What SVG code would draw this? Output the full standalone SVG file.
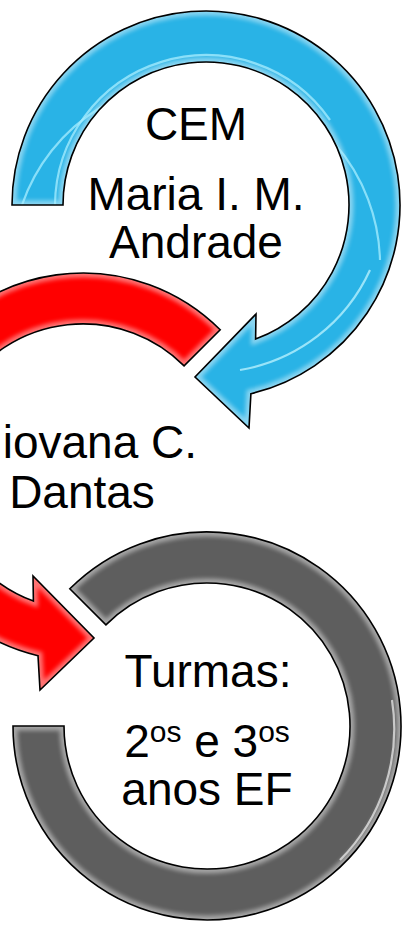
<svg xmlns="http://www.w3.org/2000/svg" xmlns:xlink="http://www.w3.org/1999/xlink" width="406" height="925" viewBox="0 0 406 925">
<style>
.lbl{font-family:"Liberation Sans",Arial,sans-serif;font-size:46px;fill:#000;text-anchor:middle}
.sup{font-size:30px}
.edge{fill:none;stroke:#000;stroke-width:1.6;stroke-linejoin:miter}
.glow{fill:none;stroke:#fff;stroke-width:9;opacity:0.45;filter:url(#blur)}
.hl{fill:none;stroke-width:2.2;opacity:0.75}
</style>
<defs>
<filter id="blur" x="-10%" y="-10%" width="120%" height="120%"><feGaussianBlur stdDeviation="2.2"/></filter>
<path id="pBlue" d="M 12 205 A 194 194 0 1 1 250.9 393.7 L 249 428 L 195 377 L 256 314 L 255.6 339.1 A 143 143 0 1 0 63 205 Z"/>
<path id="pRed" d="M 220.2 329.8 A 194 194 0 1 0 38 655.7 L 40 690 L 94 638 L 33 576 L 33.4 601.1 A 143 143 0 1 1 184.1 365.9 Z"/>
<path id="pGray" d="M 69.8 588.8 A 194 194 0 1 1 13 726 L 64 726 A 143 143 0 1 0 105.9 624.9 Z"/>
<clipPath id="cBlue"><use xlink:href="#pBlue"/></clipPath>
<clipPath id="cRed"><use xlink:href="#pRed"/></clipPath>
<clipPath id="cGray"><use xlink:href="#pGray"/></clipPath>
</defs>
<rect width="406" height="925" fill="#fff"/>
<g id="connectors"></g>
<g id="node-1">
<use xlink:href="#pBlue" fill="#29B3E6"/>
<g clip-path="url(#cBlue)">
<use xlink:href="#pBlue" class="glow"/>
<path class="hl" stroke="#A8EEFF" d="M 22 205 A 184 184 0 0 1 380 260"/>
<path class="hl" stroke="#A8EEFF" d="M 55 205 A 151 151 0 0 1 330 120"/>
<path class="hl" stroke="#BFF4FF" d="M 370 270 A 175 175 0 0 1 240 370"/>
</g>
<use xlink:href="#pBlue" class="edge"/>
<text class="lbl" x="196" y="140">CEM</text>
<text class="lbl" x="196" y="210">Maria I. M.</text>
<text class="lbl" x="196" y="258">Andrade</text>
</g>
<g id="node-2">
<use xlink:href="#pRed" fill="#FF0000"/>
<g clip-path="url(#cRed)">
<use xlink:href="#pRed" class="glow"/>
</g>
<use xlink:href="#pRed" class="edge"/>
<text class="lbl" x="82" y="458">Giovana C.</text>
<text class="lbl" x="82" y="508">Dantas</text>
</g>
<g id="node-3">
<use xlink:href="#pGray" fill="#5E5E5E"/>
<g clip-path="url(#cGray)">
<use xlink:href="#pGray" class="glow"/>
<path class="hl" stroke="#E8E8E8" d="M 392 700 A 186 186 0 0 1 340 860"/>
</g>
<use xlink:href="#pGray" class="edge"/>
<text class="lbl" x="208" y="687">Turmas:</text>
<text class="lbl" x="207" y="757">2<tspan class="sup" dy="-15">os</tspan><tspan dy="15"> e 3</tspan><tspan class="sup" dy="-15">os</tspan></text>
<text class="lbl" x="207" y="805">anos EF</text>
</g>
</svg>
